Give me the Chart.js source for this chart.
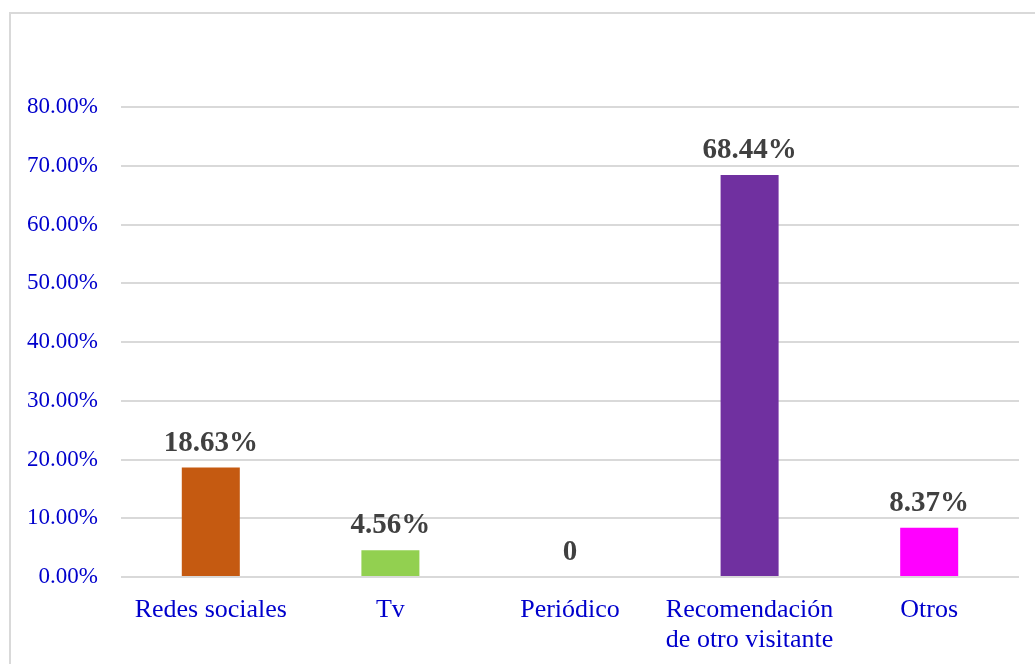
<!DOCTYPE html>
<html>
<head>
<meta charset="utf-8">
<script src="https://cdn.jsdelivr.net/npm/chart.js@4.4.1/dist/chart.umd.min.js"></script>
<style>
  html, body { margin: 0; padding: 0; background: #ffffff; overflow: hidden; }
  #wrap { position: relative; width: 1035px; height: 664px; }
  #frame { position: absolute; left: 9px; top: 12px; width: 1100px; height: 700px; border: 2px solid #d9d9d9; box-sizing: border-box; }
  canvas { position: absolute; left: 0; top: 0; }
</style>
</head>
<body>
<div id="wrap">
  <div id="frame"></div>
  <canvas id="c" width="1035" height="664"></canvas>
</div>
<script>
const categories = ["Redes sociales", "Tv", "Periódico", ["Recomendación", "de otro visitante"], "Otros"];
const values = [18.63, 4.56, 0, 68.44, 8.37];
const valueLabels = ["18.63%", "4.56%", "0", "68.44%", "8.37%"];
const barColors = ["#C55A11", "#92D050", "#A5A5A5", "#7030A0", "#FF00FF"];
const yTicks = [0, 10, 20, 30, 40, 50, 60, 70, 80];

const valueLabelPlugin = {
  id: 'valueLabels',
  afterDatasetsDraw(chart) {
    const ctx = chart.ctx;
    const meta = chart.getDatasetMeta(0);
    ctx.save();
    ctx.font = 'bold 29px "Liberation Serif", "Times New Roman", serif';
    ctx.fillStyle = '#404040';
    ctx.textAlign = 'center';
    ctx.textBaseline = 'alphabetic';
    meta.data.forEach((bar, i) => {
      ctx.fillText(valueLabels[i], bar.x, bar.y - 17);
    });
    ctx.restore();
  }
};

new Chart(document.getElementById('c'), {
  type: 'bar',
  data: {
    labels: categories,
    datasets: [{
      data: values,
      backgroundColor: barColors,
      borderWidth: 0,
      categoryPercentage: 1,
      barPercentage: 0.323
    }]
  },
  options: {
    responsive: false,
    animation: false,
    layout: { padding: { top: 107, right: 16, left: 0, bottom: 0 } },
    plugins: { legend: { display: false }, tooltip: { enabled: false } },
    scales: {
      x: {
        grid: { display: false },
        border: { display: false },
        ticks: {
          color: '#0000CC',
          padding: 10,
          maxRotation: 0,
          autoSkip: false,
          font: { family: '"Liberation Serif", "Times New Roman", serif', size: 26, lineHeight: 1.15 }
        },
        afterFit(scale) { scale.height = 87; }
      },
      y: {
        min: 0,
        max: 80,
        afterBuildTicks(scale) { scale.ticks = yTicks.map(v => ({ value: v })); },
        grid: { color: '#d9d9d9', lineWidth: 2, drawTicks: false },
        border: { display: false },
        ticks: {
          color: '#0000CC',
          padding: 23,
          font: { family: '"Liberation Serif", "Times New Roman", serif', size: 23 },
          callback: (v) => v.toFixed(2) + '%'
        },
        afterFit(scale) { scale.width = 121; }
      }
    }
  },
  plugins: [valueLabelPlugin]
});
</script>
</body>
</html>
